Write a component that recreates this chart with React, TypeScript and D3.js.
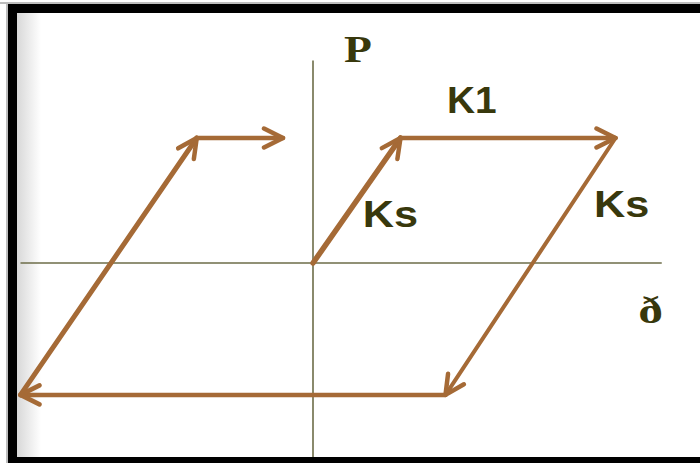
import React from 'react';
import * as d3 from 'd3';

// loop path, in load/deflection units (origin at the axes crossing)
const loopDelta = [0, 0.7, 2.42, 1.06, -2.34, -0.93, -0.24];
const loopLoad = [0, 1, 1, -1.055, -1.055, 1, 1];
const segmentWeight = [5.5, 4.5, 4, 4.5, 5, 4.5];

const axisDelta = [-2.34, 2.79];
const axisLoad = [-1.62, 1.62];

const labelText = ['P', 'K1', 'Ks', 'Ks', 'ð'];
const labelDelta = [0.36, 1.27, 0.62, 2.47, 2.7];
const labelLoad = [1.608, 1.2, 0.29, 0.37, -0.48];
const labelSerif = [true, false, false, false, true];
const labelStretch = [1.2, 1.05, 1.17, 1.17, 1.3];

const W = 700;
const H = 463;
const brown = '#a56a36';
const ink = '#38380c';
const axisColor = '#6d6d48';

export default function App() {
  const x = d3.scaleLinear().domain([0, 1]).range([313, 438]);
  const y = d3.scaleLinear().domain([0, 1]).range([263, 138]);

  const segments = d3.range(loopDelta.length - 1).map((i) => ({
    x1: x(loopDelta[i]),
    y1: y(loopLoad[i]),
    x2: x(loopDelta[i + 1]),
    y2: y(loopLoad[i + 1]),
    w: segmentWeight[i],
  }));

  return (
    <svg
      width={W}
      height={H}
      style={{ position: 'absolute', left: 0, top: 0, background: '#fff' }}
    >
      <defs>
        <marker
          id="head"
          markerUnits="userSpaceOnUse"
          viewBox="-22 -12 26 24"
          markerWidth={26}
          markerHeight={24}
          refX={0}
          refY={0}
          orient="auto"
        >
          <path d="M-19,-9.5 L0,0 L-19,9.5" fill="none" stroke={brown} strokeWidth={4.5} strokeLinecap="round" strokeLinejoin="round" />
        </marker>
        <linearGradient id="shade" x1="0" x2="1" y1="0" y2="0">
          <stop offset="0" stopColor="#d8d8d8" />
          <stop offset="1" stopColor="#ffffff" />
        </linearGradient>
      </defs>

      {/* frame */}
      <rect x={17} y={13} width={24} height={444} fill="url(#shade)" />
      <rect x={0} y={2} width={W} height={2} fill="#bdbdbd" />
      <rect x={6} y={4} width={2} height={H} fill="#bdbdbd" />
      <rect x={8} y={4} width={W - 8} height={9} fill="#000" />
      <rect x={8} y={4} width={9} height={H - 4} fill="#000" />
      <rect x={8} y={457} width={W - 8} height={6} fill="#000" />

      {/* axes */}
      <line x1={x(axisDelta[0])} x2={x(axisDelta[1])} y1={y(0)} y2={y(0)} stroke={axisColor} strokeWidth={1.6} />
      <line x1={x(0)} x2={x(0)} y1={y(axisLoad[1])} y2={Math.min(y(axisLoad[0]), 457)} stroke={axisColor} strokeWidth={1.6} />

      {/* loop */}
      {segments.map((s, i) => (
        <line
          key={i}
          x1={s.x1}
          y1={s.y1}
          x2={s.x2}
          y2={s.y2}
          stroke={brown}
          strokeWidth={s.w}
          strokeLinecap="round"
          markerEnd="url(#head)"
        />
      ))}

      {labelText.map((t, i) => {
        const lx = x(labelDelta[i]);
        const ly = y(labelLoad[i]);
        return (
          <text
            key={i}
            transform={`translate(${lx},${ly}) scale(${labelStretch[i]},1)`}
            fill={ink}
            fontFamily={labelSerif[i] ? 'Liberation Serif, serif' : 'Liberation Sans, Arial, sans-serif'}
            fontWeight="bold"
            fontSize={labelSerif[i] ? 38 : 37}
            textAnchor="middle"
          >
            {t}
          </text>
        );
      })}
    </svg>
  );
}
